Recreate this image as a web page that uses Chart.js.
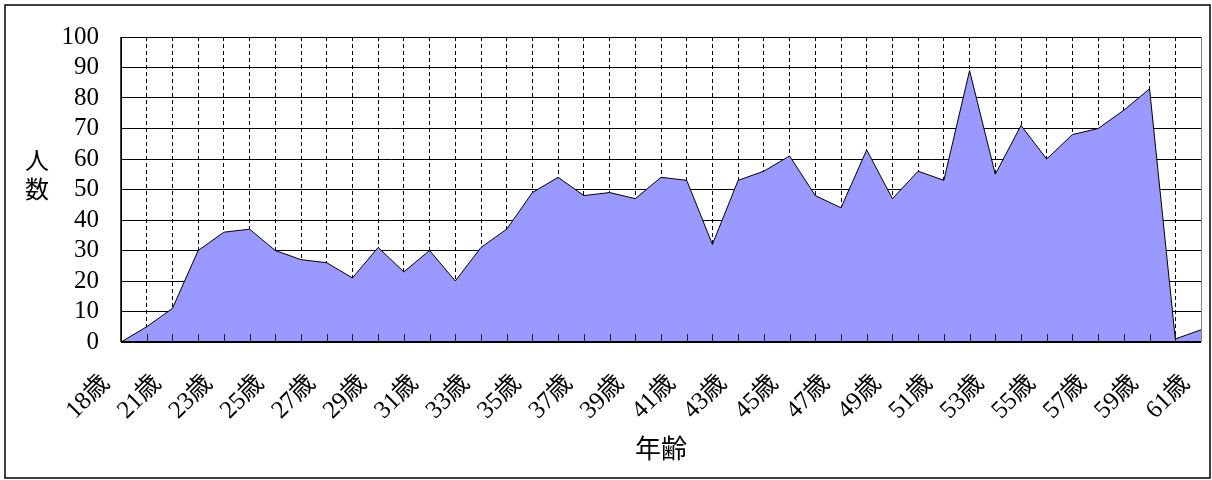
<!DOCTYPE html>
<html>
<head>
<meta charset="utf-8">
<script src="https://cdn.jsdelivr.net/npm/chart.js@4.4.1/dist/chart.umd.min.js"></script>
<style>
  html, body { margin: 0; padding: 0; background: #fff; }
  #wrap { width: 1212px; height: 480px; position: relative; }
</style>
</head>
<body>
<div id="wrap"><canvas id="chart"></canvas></div>
<script>
// Ages on the category axis (only every other one gets a visible label)
const ages = [18, 20, 21, 22, 23, 24, 25, 26, 27, 28, 29, 30, 31, 32, 33, 34, 35, 36, 37, 38, 39, 40,
              41, 42, 43, 44, 45, 46, 47, 48, 49, 50, 51, 52, 53, 54, 55, 56, 57, 58, 59, 60, 61];
const ageLabels = ages.map(a => a + '歳');

// Number of people per age
const counts = [0, 5, 11, 30, 36, 37, 30, 27, 26, 21, 31, 23, 30, 20, 31, 37, 49, 54, 48, 49, 47, 54,
                53, 32, 53, 56, 61, 48, 44, 63, 47, 56, 53, 89, 55, 71, 60, 68, 70, 76, 83, 1, 4];

// Value axis range
const yMin = 0;
const yMax = 100;
const yStep = 10;

// Axis titles
const yTitleChars = ['人', '数'];
const xTitle = '年齢';

const SERIF = "'Liberation Serif', 'Noto Sans CJK JP', serif";

// Outer frame, inward tick marks and the y title stacked vertically
const decorations = {
  id: 'decorations',
  afterDatasetsDraw(chart) {
    const { ctx, chartArea: a, scales: { x } } = chart;
    ctx.save();
    // inward tick marks on the category axis
    ctx.strokeStyle = '#222';
    ctx.lineWidth = 1;
    ctx.beginPath();
    for (let i = 1; i < ageLabels.length - 1; i++) {
      const px = Math.round(x.getPixelForValue(i)) + 0.5;
      ctx.moveTo(px, a.bottom);
      ctx.lineTo(px, a.bottom - 8);
    }
    ctx.stroke();
    // axis lines on top of the filled area
    ctx.strokeStyle = '#000';
    ctx.lineWidth = 2;
    ctx.beginPath();
    ctx.moveTo(a.left, a.bottom);
    ctx.lineTo(a.right, a.bottom);
    ctx.stroke();
    ctx.lineWidth = 1.5;
    ctx.beginPath();
    ctx.moveTo(a.left, a.top);
    ctx.lineTo(a.left, a.bottom);
    ctx.stroke();
    // right edge of the plot
    ctx.strokeStyle = '#808080';
    ctx.lineWidth = 1;
    ctx.beginPath();
    ctx.moveTo(Math.round(a.right) + 0.5, a.top);
    ctx.lineTo(Math.round(a.right) + 0.5, a.bottom);
    ctx.stroke();
    ctx.restore();
  },
  afterDraw(chart) {
    const { ctx } = chart;
    ctx.save();
    ctx.fillStyle = '#000';
    ctx.font = "24px " + SERIF;
    ctx.textAlign = 'center';
    ctx.textBaseline = 'middle';
    ctx.fillText(yTitleChars[0], 37, 163);
    ctx.fillText(yTitleChars[1], 37, 192);
    ctx.strokeStyle = '#000';
    ctx.lineWidth = 1.5;
    ctx.strokeRect(5, 5, 1205, 473);
    ctx.restore();
  }
};

new Chart(document.getElementById('chart'), {
  type: 'line',
  data: {
    labels: ageLabels,
    datasets: [{
      data: counts,
      borderColor: '#000',
      borderWidth: 1,
      backgroundColor: '#9999FF',
      fill: 'origin',
      pointRadius: 0,
      tension: 0
    }]
  },
  options: {
    responsive: true,
    maintainAspectRatio: false,
    animation: false,
    devicePixelRatio: 1,
    layout: { padding: { top: 37, right: 11, bottom: 0, left: 0 } },
    plugins: {
      legend: { display: false },
      tooltip: { enabled: false }
    },
    scales: {
      x: {
        type: 'category',
        offset: false,
        afterFit(scale) {
          scale.height = 138;
          scale.paddingLeft = 0;
          scale.paddingRight = 0;
        },
        grid: {
          color: '#000',
          lineWidth: 1,
          drawTicks: false
        },
        border: { display: false, dash: [4, 3] },
        ticks: {
          autoSkip: false,
          maxRotation: 45,
          minRotation: 45,
          padding: 27,
          labelOffset: -15,
          color: '#000',
          font: { family: SERIF, size: 25 },
          callback(value, index) { return index % 2 === 0 ? ageLabels[index] : ''; }
        },
        title: {
          display: true,
          text: xTitle,
          color: '#000',
          font: { family: SERIF, size: 26 },
          padding: { top: 0, bottom: 13 }
        }
      },
      y: {
        min: yMin,
        max: yMax,
        afterFit(scale) { scale.width = 121; },
        grid: { color: '#000', lineWidth: 1, drawTicks: false },
        border: { display: true, color: '#000', width: 1 },
        ticks: {
          stepSize: yStep,
          autoSkip: false,
          padding: 22,
          color: '#000',
          font: { family: SERIF, size: 25 }
        }
      }
    }
  },
  plugins: [decorations]
});
</script>
</body>
</html>
